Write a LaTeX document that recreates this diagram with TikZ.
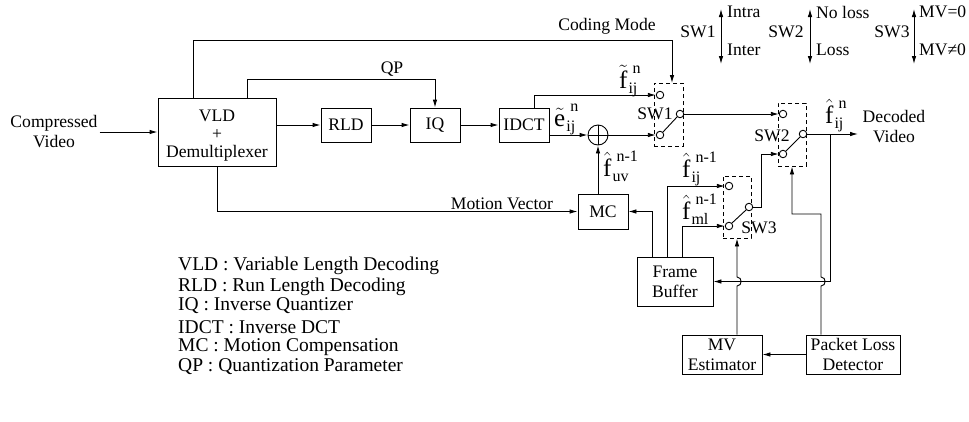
\documentclass[tikz,border=0pt]{standalone}
\usepackage{fontspec}
\setmainfont{Liberation Serif}
\usetikzlibrary{arrows.meta}
\newcommand\lbl{\fontsize{17.6}{20}\selectfont}
\newcommand\lgd{\fontsize{19.5}{21}\selectfont}
\newcommand\fsym[3]{{\fontsize{25}{25}\selectfont$#1$}\hspace{1pt}{\fontsize{16}{16}\selectfont\rlap{\hspace{4pt}\raisebox{15pt}{#3}}\raisebox{-5pt}{#2}}}
\begin{document}
\begin{tikzpicture}[x=1pt,y=-1pt,
  every node/.style={inner sep=0pt, font=\lbl},
  box/.style={draw, line width=0.9pt, align=center},
  wire/.style={line width=0.9pt},
  arr/.style={wire, -{Latex[length=8pt,width=4.5pt]}},
  dbl/.style={wire, {Latex[length=8pt,width=4.5pt]}-{Latex[length=8pt,width=4.5pt]}},
  contact/.style={circle, draw, line width=0.9pt, minimum size=7.5pt, fill=white},
  swbox/.style={draw, dash pattern=on 4pt off 3pt, line width=0.9pt},
  flab/.style={anchor=base west},
  lg/.style={anchor=west, font=\lgd}]
\useasboundingbox (0,0) rectangle (969,421);

% blocks
\node[align=center] (cv) at (54,132) {Compressed\\Video};
\node[box, minimum width=118, minimum height=68] (vld) at (217,132) {};
\node[align=center, font=\fontsize{17.6}{18}\selectfont] (vldt) at (217,135.5) {VLD\\+\\Demultiplexer};
\node[box, minimum width=50, minimum height=34] (rld) at (346,125) {RLD};
\node[box, minimum width=50, minimum height=34] (iq) at (435,125) {IQ};
\node[box, minimum width=50, minimum height=34] (idct) at (524,125) {IDCT};
\node[box, minimum width=50, minimum height=35] (mc) at (603,211.5) {MC};
\node[box, minimum width=76, minimum height=49] (fb) at (675,281.5) {Frame\\Buffer};
\node[box, minimum width=80, minimum height=39] (mve) at (722,354.5) {MV\\Estimator};
\node[box, minimum width=94, minimum height=39] (pld) at (853,354.5) {Packet Loss\\Detector};
\node[circle, draw, line width=0.9pt, minimum size=20] (add) at (598,135) {};
\draw[wire] (add.north) -- (add.south) (add.west) -- (add.east);
\node[align=center] (dv) at (894,127) {Decoded\\Video};

% switch boxes
\node[swbox, minimum width=29, minimum height=63] (sw1) at (668.5,114.5) {};
\node[swbox, minimum width=28, minimum height=63] (sw2) at (792,134.5) {};
\node[swbox, minimum width=28, minimum height=62] (sw3) at (737,207) {};
\node[contact] (c1a) at (660,95) {};
\node[contact] (c1b) at (660,135) {};
\node[contact] (c1c) at (680,114) {};
\node[contact] (c2a) at (783,114) {};
\node[contact] (c2b) at (783,154) {};
\node[contact] (c2c) at (803,134) {};
\node[contact] (c3a) at (729,186) {};
\node[contact] (c3b) at (729,226) {};
\node[contact] (c3c) at (749,207) {};
\draw[wire] (c1b.north east) -- (c1c.south west);
\draw[wire] (c2b.north east) -- (c2c.south west);
\draw[wire] (c3b.north east) -- (c3c.south west);
\node (sw1l) at (655,114) {SW1};
\node (sw2l) at (772,136) {SW2};
\node (sw3l) at (759,228) {SW3};

% main path
\draw[arr] ([xshift=2pt]cv.east) -- (cv.east -| vld.west);
\draw[arr] (vld.east |- rld.west) -- (rld.west);
\draw[arr] (rld.east) -- (iq.west);
\draw[arr] (iq.east) -- (idct.west);
\draw[arr] (idct.east |- add) -- (add.west);
\draw[arr] ([xshift=10pt]idct.north) |- (c1a.west);
\draw[arr] (add.east) -- (c1b.west);
\draw[arr] (c1c.east) -- (c2a.west);
\coordinate (dvin) at (858,134);
\draw[arr] (c2c.east) -- (dvin);

% control lines
\coordinate (qpY) at (0,79);
\draw[arr] ([xshift=30pt]vld.north) |- (qpY -| iq.north) -- (iq.north);
\node (qp) at (392,69) {QP};
\coordinate (cmY) at (0,40);
\draw[arr] ([xshift=-24pt]vld.north) |- (cmY -| 672,0) -- (672,83);
\node (cm) at (607,26) {Coding Mode};
\draw[arr] (vld.south) |- (mc.west);
\node (mv) at (502,204) {Motion Vector};
\draw[arr] (mc.north -| add) -- (add.south);

% frame buffer lines
\draw[arr] ([xshift=-23pt]fb.north) |- (mc.east);
\draw[arr] ([xshift=-8pt]fb.north) |- (c3a.west);
\draw[arr] ([xshift=7pt]fb.north) |- (c3b.west);
\draw[arr] (c3c.east) -- ++(8.5,0) |- (c2b.west);

% feedback & detectors
\coordinate (tap) at (830,134);
\draw[arr] (tap) |- (fb.east);
\draw[arr] ([xshift=15pt]mve.north) -- (737,286) .. controls (742.5,286) and (742.5,277) .. (737,277) -- (sw3.south);
\draw[arr] ([xshift=-32pt]pld.north) -- (821,286) .. controls (826.5,286) and (826.5,277) .. (821,277) -- (821,214) -| (sw2.south);
\draw[arr] (pld.west) -- (mve.east);

% signal labels
\node[flab] (le) at (554,126) {\fsym{\tilde{\mbox{e}}}{ij}{n}};
\node[flab] (lft) at (619,88) {\fsym{\tilde{\mbox{f}}}{ij}{n}};
\node[flab] (lfuv) at (603,176) {\fsym{\hat{\mbox{f}}}{uv}{n-1}};
\node[flab] (lfij) at (682,177) {\fsym{\hat{\mbox{f}}}{ij}{n-1}};
\node[flab] (lfml) at (682,219) {\fsym{\hat{\mbox{f}}}{ml}{n-1}};
\node[flab] (lfo) at (825,123) {\fsym{\hat{\mbox{f}}}{ij}{n}};

% switch legend
\node (k1) at (698,32) {SW1};
\coordinate (k1t) at (721,9); \coordinate (k1b) at (721,64);
\draw[dbl] (k1b) -- (k1t);
\node[anchor=west] (k1u) at (727,12) {Intra};
\node[anchor=west] (k1d) at (727,50) {Inter};
\node (k2) at (786,32) {SW2};
\coordinate (k2t) at (810,9); \coordinate (k2b) at (810,64);
\draw[dbl] (k2b) -- (k2t);
\node[anchor=west] (k2u) at (816,12) {No loss};
\node[anchor=west] (k2d) at (816,50) {Loss};
\node (k3) at (892,32) {SW3};
\coordinate (k3t) at (914,9); \coordinate (k3b) at (914,64);
\draw[dbl] (k3b) -- (k3t);
\node[anchor=west] (k3u) at (919,12) {MV=0};
\node[anchor=west] (k3d) at (919,50) {MV≠0};

% legend
\node[lg] (g1) at (178,266) {VLD : Variable Length Decoding};
\node[lg] (g2) at (178,287) {RLD : Run Length Decoding};
\node[lg] (g3) at (178,306) {IQ : Inverse Quantizer};
\node[lg] (g4) at (178,327) {IDCT : Inverse DCT};
\node[lg] (g5) at (178,347) {MC : Motion Compensation};
\node[lg] (g6) at (178,367) {QP : Quantization Parameter};
\end{tikzpicture}
\end{document}
